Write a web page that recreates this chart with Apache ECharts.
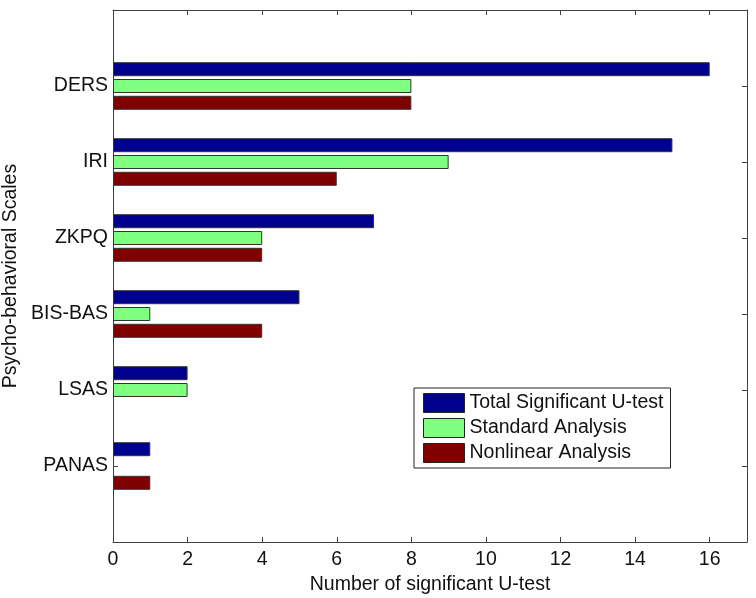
<!DOCTYPE html>
<html>
<head>
<meta charset="utf-8">
<script src="https://cdn.jsdelivr.net/npm/echarts@6/dist/echarts.min.js"></script>
<style>html,body{margin:0;padding:0;background:#fff;}#c{width:756px;height:598px;}</style>
</head>
<body>
<div id="c"></div>
<script>
// Categories bottom-to-top, padded with empty slots at both ends (axis runs 0..7)
var categories = ['', 'PANAS', 'LSAS', 'BIS-BAS', 'ZKPQ', 'IRI', 'DERS', ''];
var seriesNames = ['Total Significant U-test', 'Standard Analysis', 'Nonlinear Analysis'];
var totalSig   = [null, 1, 2, 5, 7, 15, 16, null];
var standard   = [null, 0, 2, 1, 4, 9, 8, null];
var nonlinear  = [null, 1, 0, 4, 4, 6, 8, null];
var xTicks = [0, 2, 4, 6, 8, 10, 12, 14, 16];
var colors = ['#00008F', '#80FF80', '#800000'];

var font = 'Liberation Sans, Arial, Helvetica, sans-serif';
var axisColor = '#404040';
var textColor = '#111';
var fs = 19.5;

var chart = echarts.init(document.getElementById('c'), null, {renderer: 'canvas'});

function barSeries(name, data, color) {
  // zero-length bars get no outline (as in the original figure)
  var items = data.map(function (v) {
    return v === 0 ? {value: v, itemStyle: {borderWidth: 0}} : v;
  });
  return {
    name: name, type: 'bar', data: items,
    xAxisIndex: 0, yAxisIndex: 0,
    barWidth: 14, barGap: '20%',
    itemStyle: {color: color, borderColor: '#333', borderWidth: 1},
    emphasis: {disabled: true}
  };
}

chart.setOption({
  animation: false,
  backgroundColor: '#fff',
  textStyle: {fontFamily: font},
  grid: {left: 113, right: 9, top: 10, bottom: 56, containLabel: false, outerBoundsMode: 'none'},
  legend: {
    data: seriesNames,
    orient: 'vertical',
    left: 414, top: 388,
    icon: 'rect',
    itemWidth: 41, itemHeight: 19, itemGap: 5,
    padding: [5, 7, 5, 9],
    borderColor: '#222', borderWidth: 1, backgroundColor: '#fff',
    itemStyle: {borderColor: '#222', borderWidth: 1},
    textStyle: {fontSize: fs, color: textColor, fontFamily: font},
    selectedMode: false
  },
  xAxis: [{
    type: 'value', min: 0, max: 17, interval: 2, position: 'bottom',
    axisLine: {show: true, onZero: false, lineStyle: {color: axisColor, width: 1}},
    axisTick: {show: true, inside: true, length: 5, lineStyle: {color: axisColor}},
    axisLabel: {fontSize: fs, color: textColor, margin: 8, showMaxLabel: false,
      formatter: function (v) { return xTicks.indexOf(v) >= 0 ? String(v) : ''; }},
    splitLine: {show: false},
    name: 'Number of significant U-test', nameLocation: 'middle', nameGap: 29,
    nameTextStyle: {fontSize: fs, color: textColor}
  }, {
    type: 'value', min: 0, max: 17, interval: 2, position: 'top',
    axisLine: {show: true, onZero: false, lineStyle: {color: axisColor, width: 1}},
    axisTick: {show: true, inside: true, length: 5, lineStyle: {color: axisColor}},
    axisLabel: {show: false},
    splitLine: {show: false}
  }],
  yAxis: [{
    type: 'category', data: categories, boundaryGap: false, position: 'left',
    axisLine: {show: true, onZero: false, lineStyle: {color: axisColor, width: 1}},
    axisTick: {show: true, inside: true, length: 5, lineStyle: {color: axisColor}},
    axisLabel: {fontSize: fs, color: textColor, margin: 5, interval: 0},
    splitLine: {show: false},
    name: 'Psycho-behavioral Scales', nameLocation: 'middle', nameGap: 88, nameRotate: 90,
    nameTextStyle: {fontSize: fs, color: textColor}
  }, {
    type: 'category', data: categories, boundaryGap: false, position: 'right',
    axisLine: {show: true, onZero: false, lineStyle: {color: axisColor, width: 1}},
    axisTick: {show: true, inside: true, length: 5, lineStyle: {color: axisColor}},
    axisLabel: {show: false},
    splitLine: {show: false}
  }],
  series: [
    barSeries(seriesNames[0], totalSig, colors[0]),
    barSeries(seriesNames[1], standard, colors[1]),
    barSeries(seriesNames[2], nonlinear, colors[2])
  ]
});
</script>
</body>
</html>
